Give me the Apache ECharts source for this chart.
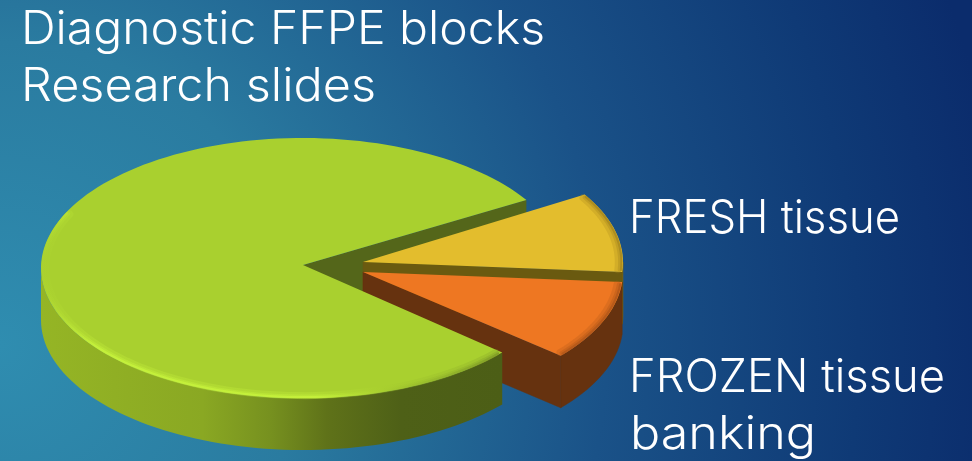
<!DOCTYPE html>
<html>
<head>
<meta charset="utf-8">
<style>html,body{margin:0;padding:0;background:#14487f}#chart{width:972px;height:461px}</style>
<script src="https://cdn.jsdelivr.net/npm/echarts@6/dist/echarts.min.js"></script>
</head>
<body>
<div id="chart"></div>
<script>
// Tissue sources, clockwise from the fresh-tissue wedge
const categories = ['FRESH tissue', 'FROZEN tissue banking', 'Diagnostic FFPE blocks / Research slides'];
const shares = [10, 10, 80];

// Caption lines
const captionLines = ['Diagnostic FFPE blocks', 'Research slides', 'FRESH tissue', 'FROZEN tissue', 'banking'];

const chart = echarts.init(document.getElementById('chart'));
const G = echarts.graphic;
const rad = d => d * Math.PI / 180;

// Disc projection and per-wedge appearance
const START_DEG = -31.5, DEPTH = 52;
const looks = [
  { cx: 363, cy: 262, apexY: 262, rx: 260, ry: 129, top: '#e3bd2d', edge: '#a98a1e', cut: '#6a5a10', rim: '#7a6412' },
  { cx: 363, cy: 272, apexY: 272, rx: 260, ry: 129, top: '#ee7722', edge: '#b4581a', cut: '#66320f', rim: '#66320f' },
  { cx: 303, cy: 268, apexY: 265, rx: 262, ry: 130, top: '#a9d02f', edge: '#a9d02f', cut: '#54661a', rim: '#5a6c1a' }
];

const total = shares.reduce((a, b) => a + b, 0);
const ranges = [];
shares.reduce((from, v) => {
  const to = from + v / total * 360;
  ranges.push([from, to]);
  return to;
}, START_DEG);

const arc = (k, a0, a1, scale = 1, dy = 0) => {
  const s = looks[k], pts = [];
  const n = Math.max(2, Math.ceil(Math.abs(a1 - a0) / 2));
  for (let i = 0; i <= n; i++) {
    const a = rad(a0 + (a1 - a0) * i / n);
    pts.push([s.cx + s.rx * scale * Math.cos(a), s.cy + s.ry * scale * Math.sin(a) + dy]);
  }
  return pts;
};

function cutFace(k, deg) {
  const s = looks[k], a = rad(deg);
  const x = s.cx + s.rx * Math.cos(a), y = s.cy + s.ry * Math.sin(a);
  return [[s.cx, s.apexY], [x, y], [x, y + DEPTH], [s.cx, s.apexY + DEPTH]];
}

// Overlaid strokes give the rim its soft rounded edge
function softRim(k, a0, a1, stroke) {
  return [
    { type: 'polyline', shape: { points: arc(k, a0, a1, 0.982) },
      style: { stroke, lineWidth: 7, fill: null, opacity: 0.28, lineCap: 'round' } },
    { type: 'polyline', shape: { points: arc(k, a0, a1, 0.989) },
      style: { stroke, lineWidth: 4, fill: null, opacity: 0.4, lineCap: 'round' } },
    { type: 'polyline', shape: { points: arc(k, a0, a1, 0.994) },
      style: { stroke, lineWidth: 2.2, fill: null, opacity: 0.85, lineCap: 'round' } }
  ];
}

function wedgeParts(k) {
  const s = looks[k], [a0, a1] = ranges[k], parts = [];
  // Outer wall: only the front half of the rim faces the viewer
  const w0 = Math.max(a0, 0), w1 = Math.min(a1, 180);
  if (w1 > w0) {
    const wall = arc(k, w0, w1).concat(arc(k, w1, w0, 1, DEPTH));
    const fill = k === 2
      ? new G.LinearGradient(0, 0, 1, 0, [
          { offset: 0, color: '#95b525' }, { offset: 0.35, color: '#8aa823' },
          { offset: 0.5, color: '#76901f' }, { offset: 0.62, color: '#5f7219' },
          { offset: 0.78, color: '#4e6017' }, { offset: 1, color: '#4c5e16' }])
      : s.rim;
    parts.push({ type: 'polygon', shape: { points: wall }, style: { fill, stroke: k === 2 ? null : s.rim, lineWidth: 0.5 } });
  }
  // Cut face along the wedge's clockwise end
  if (k !== 2) parts.push({ type: 'polygon', shape: { points: cutFace(k, a1) }, style: { fill: s.cut, stroke: s.cut, lineWidth: 0.5 } });
  // Top face
  const topPts = [[s.cx, s.apexY]].concat(arc(k, a0, a1));
  parts.push({ type: 'polygon', shape: { points: topPts }, style: { fill: s.top } });
  if (k === 2) {
    const bevel = new G.LinearGradient(0, 0, 1, 0, [
      { offset: 0, color: '#a9d02f' }, { offset: 0.12, color: '#c6f23b' },
      { offset: 0.6, color: '#c6f23b' }, { offset: 0.74, color: '#a9d02f' },
      { offset: 1, color: '#7f9c26' }]);
    parts.push(...softRim(k, a0 + 1, 205, bevel));
  } else {
    parts.push(...softRim(k, a0 + 1, a1 - 1, s.edge));
  }
  return parts;
}

// Painter's order: the large wedge's exposed cut, the two pulled-out wedges, the large wedge
const layers = [[2, 'cut'], [0, 'wedge'], [1, 'wedge'], [2, 'wedge']];

function renderLayer(params, api) {
  const k = api.value(0);
  if (api.value(1) === 0) {
    return { type: 'polygon', shape: { points: cutFace(k, ranges[k][1]) }, style: { fill: looks[k].cut } };
  }
  return { type: 'group', children: wedgeParts(k) };
}

// Caption placement: left edge, vertical middle, rendered width
const captionAt = [[21, 30, 524], [21, 87, 355], [629, 219, 271], [629, 378, 316], [630, 435, 186]];
const captionFont = '300 46px Inter';
const ruler = document.createElement('canvas').getContext('2d');
ruler.font = captionFont;

chart.setOption({
  animation: false,
  backgroundColor: {
    type: 'radial', x: 0, y: 345, r: 1010, global: true,
    colorStops: [
      { offset: 0, color: '#2f8db0' }, { offset: 0.3, color: '#2a7ba0' },
      { offset: 0.6, color: '#1a5288' }, { offset: 0.85, color: '#0f3a76' },
      { offset: 1, color: '#0b2c6c' }]
  },
  series: [{
    type: 'custom',
    coordinateSystem: 'none',
    silent: true,
    data: layers.map(([k, part]) => ({ name: categories[k], value: [k, part === 'cut' ? 0 : 1, shares[k]] })),
    renderItem: renderLayer
  }],
  graphic: captionLines.map((t, i) => ({
    type: 'text', x: captionAt[i][0], y: captionAt[i][1], silent: true,
    scaleX: captionAt[i][2] / ruler.measureText(t).width,
    style: { text: t, fill: '#ffffff', font: captionFont, verticalAlign: 'middle', align: 'left' }
  }))
});
</script>
</body>
</html>
